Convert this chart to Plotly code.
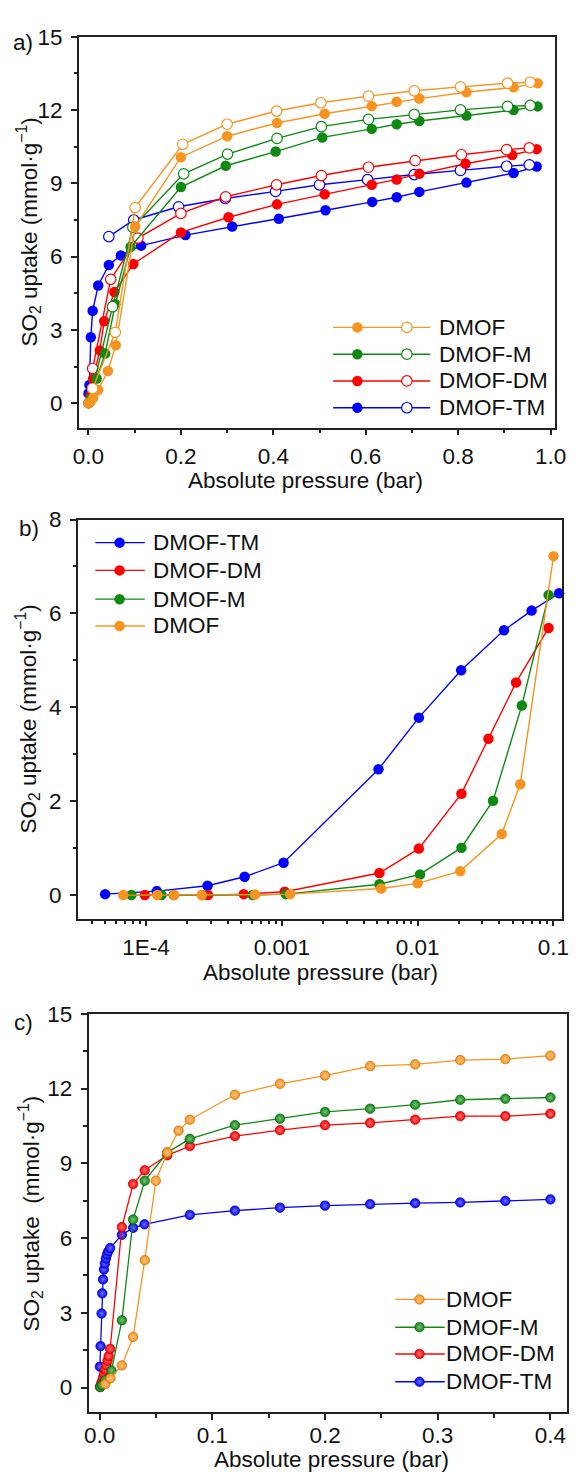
import plotly.graph_objects as go

# ---------------------------------------------------------------- data
# a) SO2 isotherms, 0-1 bar (filled = adsorption, open = desorption)
A_DMOF_ADS_P = [0.0, 0.004, 0.01, 0.021, 0.042, 0.059, 0.101, 0.2, 0.3, 0.408, 0.511, 0.613, 0.667, 0.716, 0.818, 0.92, 0.972]
A_DMOF_ADS_U = [0.0, 0.05, 0.2, 0.54, 1.32, 2.37, 7.23, 10.07, 10.93, 11.47, 11.85, 12.16, 12.34, 12.47, 12.73, 12.93, 13.1]
A_DMOF_DES_P = [0.956, 0.907, 0.805, 0.705, 0.606, 0.503, 0.407, 0.3, 0.204, 0.101, 0.058, 0.009]
A_DMOF_DES_U = [13.14, 13.1, 12.95, 12.79, 12.57, 12.3, 11.96, 11.42, 10.6, 8.01, 2.9, 0.6]

A_M_ADS_P = [0.0, 0.005, 0.0175, 0.036, 0.058, 0.091, 0.2, 0.297, 0.405, 0.506, 0.613, 0.667, 0.716, 0.818, 0.92, 0.972]
A_M_ADS_U = [0.0, 0.2, 1.01, 2.03, 4.05, 6.39, 8.85, 9.72, 10.3, 10.88, 11.23, 11.42, 11.55, 11.78, 12.0, 12.15]
A_M_DES_P = [0.956, 0.907, 0.805, 0.705, 0.606, 0.504, 0.408, 0.301, 0.206, 0.096, 0.052, 0.009]
A_M_DES_U = [12.19, 12.15, 12.01, 11.82, 11.62, 11.32, 10.84, 10.2, 9.39, 7.2, 3.95, 0.6]

A_DM_ADS_P = [0.0, 0.004, 0.01, 0.0245, 0.034, 0.056, 0.097, 0.2, 0.303, 0.408, 0.511, 0.613, 0.667, 0.716, 0.816, 0.917, 0.97]
A_DM_ADS_U = [0.0, 0.3, 1.0, 2.16, 3.35, 4.55, 5.7, 6.99, 7.61, 8.14, 8.55, 8.94, 9.16, 9.39, 9.8, 10.16, 10.4]
A_DM_DES_P = [0.954, 0.905, 0.807, 0.707, 0.606, 0.504, 0.407, 0.297, 0.2, 0.107, 0.048, 0.009]
A_DM_DES_U = [10.45, 10.38, 10.17, 9.93, 9.66, 9.32, 8.94, 8.45, 7.77, 6.76, 5.07, 1.42]

A_TM_ADS_P = [0.0, 0.002, 0.005, 0.009, 0.021, 0.044, 0.07, 0.114, 0.21, 0.311, 0.412, 0.513, 0.614, 0.667, 0.716, 0.818, 0.92, 0.97]
A_TM_ADS_U = [0.4, 0.74, 2.7, 3.78, 4.82, 5.66, 6.05, 6.45, 6.88, 7.23, 7.55, 7.9, 8.24, 8.43, 8.65, 9.03, 9.42, 9.69]
A_TM_DES_P = [0.954, 0.905, 0.805, 0.705, 0.604, 0.5, 0.405, 0.296, 0.195, 0.098, 0.044]
A_TM_DES_U = [9.76, 9.7, 9.53, 9.36, 9.15, 8.94, 8.67, 8.38, 8.04, 7.5, 6.82]

# b) low-pressure region on a logarithmic pressure axis
B_TM_P = [5.0e-5, 1.2e-4, 2.84e-4, 5.32e-4, 1.03e-3, 5.15e-3, 0.0102, 0.0209, 0.0432, 0.069, 0.11]
B_TM_U = [0.02, 0.085, 0.2, 0.39, 0.69, 2.68, 3.78, 4.79, 5.64, 6.06, 6.43]
B_DM_P = [9.8e-5, 2.86e-4, 5.24e-4, 1.05e-3, 5.23e-3, 0.0102, 0.021, 0.0332, 0.053, 0.092]
B_DM_U = [0.0, 0.0, 0.02, 0.07, 0.47, 0.99, 2.16, 3.33, 4.53, 5.69]
B_M_P = [7.8e-5, 1.3e-4, 1.6e-4, 2.6e-4, 6.1e-4, 1.07e-3, 5.23e-3, 0.0104, 0.021, 0.0359, 0.0585, 0.092]
B_M_U = [0.0, 0.0, 0.0, 0.0, 0.0, 0.02, 0.23, 0.44, 1.01, 2.01, 4.04, 6.39]
B_DMOF_P = [6.8e-5, 1.21e-4, 1.61e-4, 2.57e-4, 6.35e-4, 1.15e-3, 5.38e-3, 0.01, 0.0206, 0.0416, 0.0569, 0.1]
B_DMOF_U = [0.0, 0.0, 0.0, 0.0, 0.01, 0.02, 0.14, 0.25, 0.51, 1.3, 2.36, 7.22]

# c) adsorption isotherms, 0-0.4 bar
C_TM_P = [0.0002, 0.0008, 0.0017, 0.0023, 0.003, 0.0038, 0.0046, 0.0055, 0.0065, 0.0077, 0.0093,
          0.0197, 0.0297, 0.0398, 0.08, 0.12, 0.16, 0.2, 0.24, 0.28, 0.32, 0.36, 0.4]
C_TM_U = [0.84, 1.66, 2.97, 3.78, 4.34, 4.74, 4.98, 5.18, 5.34, 5.47, 5.6,
          6.13, 6.41, 6.55, 6.93, 7.1, 7.22, 7.3, 7.36, 7.4, 7.43, 7.49, 7.55]
C_DM_P = [0.0003, 0.001, 0.002, 0.003, 0.004, 0.005, 0.006, 0.007, 0.008, 0.0093,
          0.0197, 0.0297, 0.04, 0.06, 0.08, 0.12, 0.16, 0.2, 0.24, 0.28, 0.32, 0.36, 0.4]
C_DM_U = [0.03, 0.12, 0.25, 0.4, 0.56, 0.72, 0.9, 1.08, 1.26, 1.55,
          6.44, 8.17, 8.72, 9.32, 9.69, 10.09, 10.33, 10.53, 10.62, 10.75, 10.89, 10.89, 10.99]
C_M_P = [0.0005, 0.002, 0.005, 0.0105, 0.0197, 0.0297, 0.04, 0.06, 0.08, 0.12, 0.16, 0.2, 0.24, 0.28, 0.32, 0.36, 0.4]
C_M_U = [0.02, 0.1, 0.3, 0.68, 2.7, 6.74, 8.3, 9.43, 9.98, 10.53, 10.79, 11.06, 11.19, 11.35, 11.55, 11.59, 11.64]
C_DMOF_P = [0.005, 0.0096, 0.0197, 0.0297, 0.04, 0.0498, 0.06, 0.07, 0.08, 0.12, 0.16, 0.2, 0.24, 0.28, 0.32, 0.36, 0.4]
C_DMOF_U = [0.14, 0.37, 0.89, 2.03, 5.11, 8.3, 9.43, 10.31, 10.75, 11.75, 12.19, 12.52, 12.9, 12.97, 13.14, 13.18, 13.32]

NAMES = ["DMOF", "DMOF-M", "DMOF-DM", "DMOF-TM"]
B_LEGEND_ORDER = ["DMOF-TM", "DMOF-DM", "DMOF-M", "DMOF"]

# ---------------------------------------------------------------- style
W, H = 579, 1472
FONT = "Liberation Sans, Arial, sans-serif"
TEXT_SIZE = 22.5
INK = "#222222"
COLORS = {"DMOF": "#F7931E", "DMOF-M": "#0E8A12", "DMOF-DM": "#FF0000", "DMOF-TM": "#0000FF"}
LIGHT = {"DMOF": "#FBC483", "DMOF-M": "#7ABE7D", "DMOF-DM": "#FF7373", "DMOF-TM": "#7373FF"}
DARK = {"DMOF": "#C86A00", "DMOF-M": "#0A5E0A", "DMOF-DM": "#B80000", "DMOF-TM": "#0000A8"}

# plot-area boxes in pixels: left, right, top, bottom
BOX_A = (75, 566, 25, 419)
BOX_B = (74, 573, 511.7, 914)
BOX_C = (85, 578.3, 1010, 1412)


def xdom(box):
    return [box[0] / W, box[1] / W]


def ydom(box):
    return [1 - box[3] / H, 1 - box[2] / H]


def minor_ticks(**kw):
    d = dict(ticks="outside", ticklen=3.5, tickwidth=1.5, tickcolor=INK, showgrid=False)
    d.update(kw)
    return d


def axis_style(**kw):
    d = dict(
        showline=True, linecolor=INK, linewidth=1.5, mirror=True,
        ticks="outside", ticklen=6, tickwidth=1.5, tickcolor=INK,
        showgrid=False, zeroline=False, ticklabelstandoff=4,
        tickfont=dict(family=FONT, size=TEXT_SIZE, color="#111111"),
    )
    d.update(kw)
    return d


fig = go.Figure()

# ---------------------------------------------------------------- panel a
a_sets = {
    "DMOF-TM": (A_TM_ADS_P, A_TM_ADS_U, A_TM_DES_P, A_TM_DES_U),
    "DMOF-DM": (A_DM_ADS_P, A_DM_ADS_U, A_DM_DES_P, A_DM_DES_U),
    "DMOF-M": (A_M_ADS_P, A_M_ADS_U, A_M_DES_P, A_M_DES_U),
    "DMOF": (A_DMOF_ADS_P, A_DMOF_ADS_U, A_DMOF_DES_P, A_DMOF_DES_U),
}
for name, (ap, au, dp, du) in a_sets.items():
    c = COLORS[name]
    fig.add_trace(go.Scatter(
        x=ap, y=au, xaxis="x", yaxis="y", mode="lines+markers",
        line=dict(color=c, width=1.4),
        marker=dict(symbol="circle", size=10.5, color=c, line=dict(width=0)),
        showlegend=False, cliponaxis=False))
    fig.add_trace(go.Scatter(
        x=dp, y=du, xaxis="x", yaxis="y", mode="lines+markers",
        line=dict(color=c, width=1.4),
        marker=dict(symbol="circle", size=10.5, color="white", line=dict(color=c, width=1.2)),
        showlegend=False, cliponaxis=False))

# ---------------------------------------------------------------- panel b
b_sets = {
    "DMOF-TM": (B_TM_P, B_TM_U),
    "DMOF-DM": (B_DM_P, B_DM_U),
    "DMOF-M": (B_M_P, B_M_U),
    "DMOF": (B_DMOF_P, B_DMOF_U),
}
for name, (p, u) in b_sets.items():
    c = COLORS[name]
    fig.add_trace(go.Scatter(
        x=p, y=u, xaxis="x2", yaxis="y2", mode="lines+markers",
        line=dict(color=c, width=1.4),
        marker=dict(symbol="circle", size=10.5, color=c, line=dict(width=0)),
        showlegend=False, cliponaxis=False))

# ---------------------------------------------------------------- panel c
c_sets = {
    "DMOF-TM": (C_TM_P, C_TM_U),
    "DMOF-DM": (C_DM_P, C_DM_U),
    "DMOF-M": (C_M_P, C_M_U),
    "DMOF": (C_DMOF_P, C_DMOF_U),
}


def ball(name, size=9.5):
    # shaded sphere look: saturated rim, lighter centre
    return dict(symbol="circle", size=size, color=COLORS[name],
                gradient=dict(type="radial", color=LIGHT[name]),
                line=dict(color=DARK[name], width=0.7))


for name, (p, u) in c_sets.items():
    fig.add_trace(go.Scatter(
        x=p, y=u, xaxis="x3", yaxis="y3", mode="lines+markers",
        line=dict(color=COLORS[name], width=1.3),
        marker=ball(name), showlegend=False, cliponaxis=False))

# ---------------------------------------------------------------- legends
# drawn on a transparent pixel-space overlay axis (x4/y4) covering the page
LEG_A = dict(x0=337, x1=437, marks=(362, 413), text_x=444, rows=(318, 345, 372, 399))
LEG_B = dict(x0=92, x1=143, marks=(117,), text_x=149, rows=(535, 563, 592, 619))
LEG_C = dict(x0=401, x1=452, marks=(426,), text_x=451, rows=(1298, 1326, 1353, 1381))

annotations = []


def legend_text(x, y, text):
    annotations.append(dict(
        x=x, y=y, xref="x4", yref="y4", text=text, showarrow=False,
        xanchor="left", yanchor="middle",
        font=dict(family=FONT, size=TEXT_SIZE, color="#111111")))


def legend_line(spec, row, color):
    fig.add_trace(go.Scatter(
        x=[spec["x0"], spec["x1"]], y=[row, row], xaxis="x4", yaxis="y4",
        mode="lines", line=dict(color=color, width=1.4),
        showlegend=False, hoverinfo="skip", cliponaxis=False))


for name, row in zip(NAMES, LEG_A["rows"]):
    c = COLORS[name]
    legend_line(LEG_A, row, c)
    fig.add_trace(go.Scatter(
        x=[LEG_A["marks"][0]], y=[row], xaxis="x4", yaxis="y4", mode="markers",
        marker=dict(size=10.5, color=c, line=dict(width=0)),
        showlegend=False, hoverinfo="skip", cliponaxis=False))
    fig.add_trace(go.Scatter(
        x=[LEG_A["marks"][1]], y=[row], xaxis="x4", yaxis="y4", mode="markers",
        marker=dict(size=10.5, color="white", line=dict(color=c, width=1.2)),
        showlegend=False, hoverinfo="skip", cliponaxis=False))
    legend_text(LEG_A["text_x"], row, name)

for name, row in zip(B_LEGEND_ORDER, LEG_B["rows"]):
    c = COLORS[name]
    legend_line(LEG_B, row, c)
    fig.add_trace(go.Scatter(
        x=[LEG_B["marks"][0]], y=[row], xaxis="x4", yaxis="y4", mode="markers",
        marker=dict(size=10.5, color=c, line=dict(width=0)),
        showlegend=False, hoverinfo="skip", cliponaxis=False))
    legend_text(LEG_B["text_x"], row, name)

for name, row in zip(NAMES, LEG_C["rows"]):
    legend_line(LEG_C, row, COLORS[name])
    fig.add_trace(go.Scatter(
        x=[LEG_C["marks"][0]], y=[row], xaxis="x4", yaxis="y4", mode="markers",
        marker=ball(name), showlegend=False, hoverinfo="skip", cliponaxis=False))
    legend_text(LEG_C["text_x"], row, name)

# ---------------------------------------------------------------- titles and panel tags
YTITLE = "SO<sub>2</sub> uptake (mmol·g<sup>−1</sup>)"
YTITLE_C = "SO<sub>2</sub> uptake \u00a0(mmol·g<sup>−1</sup>)"
XTITLE = "Absolute pressure (bar)"


def page_text(x, y, text, angle=0):
    annotations.append(dict(
        x=x, y=y, xref="x4", yref="y4", text=text, showarrow=False,
        xanchor="center", yanchor="middle", textangle=angle,
        font=dict(family=FONT, size=TEXT_SIZE, color="#111111")))


page_text(309, 472, XTITLE)
page_text(324, 968, XTITLE)
page_text(335, 1459.5, XTITLE)
page_text(23, 222, YTITLE, -90)
page_text(22, 713, YTITLE, -90)
page_text(25, 1211, YTITLE_C, -90)
page_text(18, 31, "a)")
page_text(24, 521, "b)")
page_text(18, 1019, "c)")

# ---------------------------------------------------------------- axes
log_minor = [k * 10 ** e for e in range(-5, 0) for k in range(2, 10)]

fig.update_layout(
    width=W, height=H, margin=dict(l=0, r=0, t=0, b=0),
    paper_bgcolor="white", plot_bgcolor="rgba(0,0,0,0)",
    showlegend=False, hovermode=False,
    annotations=annotations,
    xaxis=axis_style(domain=xdom(BOX_A), anchor="y", range=[-0.021, 1.0105],
                     tick0=0, dtick=0.2, tickformat=".1f", ticklabelstandoff=2,
                     minor=minor_ticks(tick0=0, dtick=0.1)),
    yaxis=axis_style(domain=ydom(BOX_A), anchor="x", range=[-1, 15],
                     tick0=0, dtick=3, minor=minor_ticks(tick0=0, dtick=1.5)),
    xaxis2=axis_style(domain=xdom(BOX_B), anchor="y2", type="log", range=[-4.502, -0.936],
                      tickmode="array", tickvals=[1e-4, 1e-3, 1e-2, 1e-1],
                      ticktext=["1E-4", "0.001", "0.01", "0.1"], ticklabelstandoff=2,
                      minor=minor_ticks(tickmode="array", tickvals=log_minor)),
    yaxis2=axis_style(domain=ydom(BOX_B), anchor="x2", range=[-0.5, 8],
                      tick0=0, dtick=2, minor=minor_ticks(tick0=0, dtick=1)),
    xaxis3=axis_style(domain=xdom(BOX_C), anchor="y3", range=[-0.0099, 0.415],
                      tick0=0, dtick=0.1, tickformat=".1f", ticklabelstandoff=-4,
                      minor=minor_ticks(tick0=0, dtick=0.05)),
    yaxis3=axis_style(domain=ydom(BOX_C), anchor="x3", range=[-1, 15],
                      tick0=0, dtick=3, minor=minor_ticks(tick0=0, dtick=1.5)),
    xaxis4=dict(domain=[0, 1], anchor="y4", range=[0, W], visible=False, fixedrange=True),
    yaxis4=dict(domain=[0, 1], anchor="x4", range=[H, 0], visible=False, fixedrange=True),
)

fig.write_html("out.html")
